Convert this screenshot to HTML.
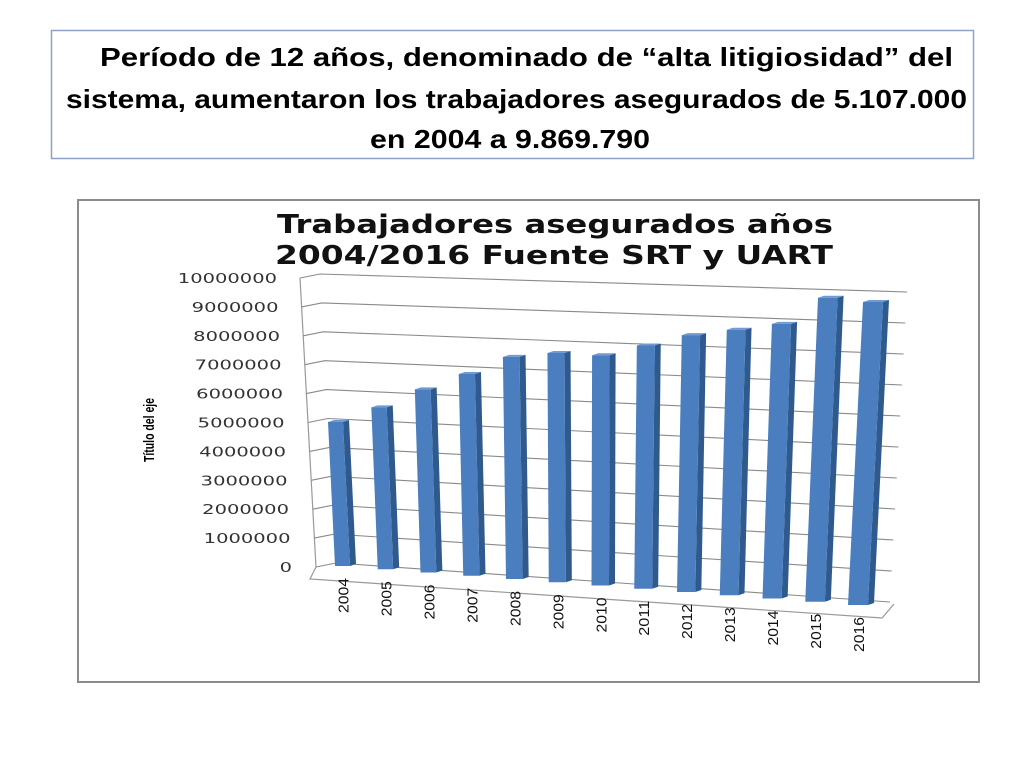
<!DOCTYPE html>
<html><head><meta charset="utf-8"><style>
body{margin:0;width:1024px;height:768px;background:#fff;overflow:hidden}
svg{position:absolute;left:0;top:0}
</style></head><body>
<svg width="1024" height="768" xmlns="http://www.w3.org/2000/svg">
<rect x="51.5" y="30.5" width="922" height="128" fill="#fff" stroke="#8ea2c6" stroke-width="1.5"/>
<g font-family="'Liberation Sans',sans-serif" font-weight="bold" font-size="26" fill="#000">
<text x="100" y="66" textLength="853" lengthAdjust="spacingAndGlyphs">Período de 12 años, denominado de “alta litigiosidad” del</text>
<text x="66" y="108" textLength="901" lengthAdjust="spacingAndGlyphs">sistema, aumentaron los trabajadores asegurados de 5.107.000</text>
<text x="370" y="148" textLength="280" lengthAdjust="spacingAndGlyphs">en 2004 a 9.869.790</text>
</g>
<rect x="78" y="200" width="901" height="482" fill="#fff" stroke="#8c8c8c" stroke-width="2"/>
<g font-family="'DejaVu Sans',sans-serif" font-weight="bold" font-size="26" fill="#111">
<text x="277" y="233" textLength="556" lengthAdjust="spacingAndGlyphs">Trabajadores asegurados años</text>
<text x="275" y="264" textLength="558" lengthAdjust="spacingAndGlyphs">2004/2016 Fuente SRT y UART</text>
</g>
<text transform="translate(154,430) rotate(-90)" text-anchor="middle" font-family="'Liberation Sans',sans-serif" font-weight="bold" font-size="15" textLength="64" lengthAdjust="spacingAndGlyphs">Título del eje</text>
<g id="grid"></g>
<g id="ticks"></g>
<g id="bars"></g>
<g id="xlabels"></g>
</svg>
<script>
const categories=["2004","2005","2006","2007","2008","2009","2010","2011","2012","2013","2014","2015","2016"];
const values=[5107000,5700000,6400000,7000000,7650000,7840000,7820000,8200000,8600000,8830000,9070000,9970000,9869790];
const tickValues=[0,1000000,2000000,3000000,4000000,5000000,6000000,7000000,8000000,9000000,10000000];
const tickLabels=["0","1000000","2000000","3000000","4000000","5000000","6000000","7000000","8000000","9000000","10000000"];
const NS="http://www.w3.org/2000/svg";
const MAXV=10000000, N=categories.length;
function mk(t,a,p){const e=document.createElementNS(NS,t);for(const k in a)e.setAttribute(k,a[k]);p.appendChild(e);return e;}
// back wall axis functions
function wallL(v){const g=v/1e6;return [316-1.6*g,567-28.9*g];}
function wallR(v){const g=v/1e6;return [890+1.7*g,602-31*g];}
// bar axis functions
function barX(i){return 335+i*(848-335)/(N-1);}
function barY0(i){return 566+39*i/(N-1);}
function barK(i){return (28.2+2.5*i/(N-1))/1e6;}
function barLean(i){return (-13.7+28.9*i/(N-1))/MAXV;}
function barW(i){return 15+5*i/(N-1);}
const grid=document.getElementById('grid'),ticks=document.getElementById('ticks'),bars=document.getElementById('bars'),xl=document.getElementById('xlabels');
// left wall edge & floor
const a=wallL(0),b=wallL(MAXV);
const edge=mk('line',{x1:a[0],y1:a[1],x2:b[0],y2:b[1],stroke:'#999','stroke-width':1.2},grid);


const r0=wallR(0);
const floor=mk('polyline',{points:`${a[0]},${a[1]} ${a[0]-6},${a[1]+12} ${r0[0]-8},${r0[1]+16} ${r0[0]+4},${r0[1]+2}`,fill:'none',stroke:'#999','stroke-width':1.2},grid);


tickValues.forEach((v,j)=>{
  const L=wallL(v),R=wallR(v);
  const gl=mk('polyline',{points:`${L[0]},${L[1]} ${L[0]+20},${L[1]-4} ${R[0]},${R[1]}`,fill:'none',stroke:'#8a8a8a','stroke-width':1.1},grid);
  
  
  const t=mk('text',{x:L[0]-22+1.5*(10-v/1e6)*0.0,y:L[1]+5,'text-anchor':'end','font-family':"'DejaVu Sans',sans-serif",'font-size':13,fill:'#333'},ticks);
  t.setAttribute('x',292-15*v/MAXV);
  t.setAttribute('textLength',tickLabels[j].length*12.4);
  t.setAttribute('lengthAdjust','spacingAndGlyphs');
  t.textContent=tickLabels[j];
  
  
});
values.forEach((v,i)=>{
  const x0=barX(i),y0=barY0(i),w=barW(i),h=v*barK(i),dx=v*barLean(i),yt=y0-h,d=6;
  const g=mk('g',{},bars);
  
  
  mk('polygon',{points:`${x0+w},${y0} ${x0+w+dx},${yt} ${x0+w+dx+d},${yt-2} ${x0+w+d},${y0-2}`,fill:'#2f5a8e'},g);
  mk('polygon',{points:`${x0+dx},${yt} ${x0+w+dx},${yt} ${x0+w+dx+d},${yt-2} ${x0+dx+d},${yt-2}`,fill:'#6f9ad3'},g);
  mk('polygon',{points:`${x0},${y0} ${x0+w},${y0} ${x0+w+dx},${yt} ${x0+dx},${yt}`,fill:'#4a7ebf'},g);
  const cx=x0+w/2, ty=y0+12;
  const t=mk('text',{transform:`translate(${cx+6},${ty}) rotate(-90)`,'text-anchor':'end','font-family':"'Liberation Sans',sans-serif",'font-size':15,fill:'#111',textLength:35,lengthAdjust:'spacingAndGlyphs'},xl);
  t.textContent=categories[i];
  
  
});
</script>
</body></html>
